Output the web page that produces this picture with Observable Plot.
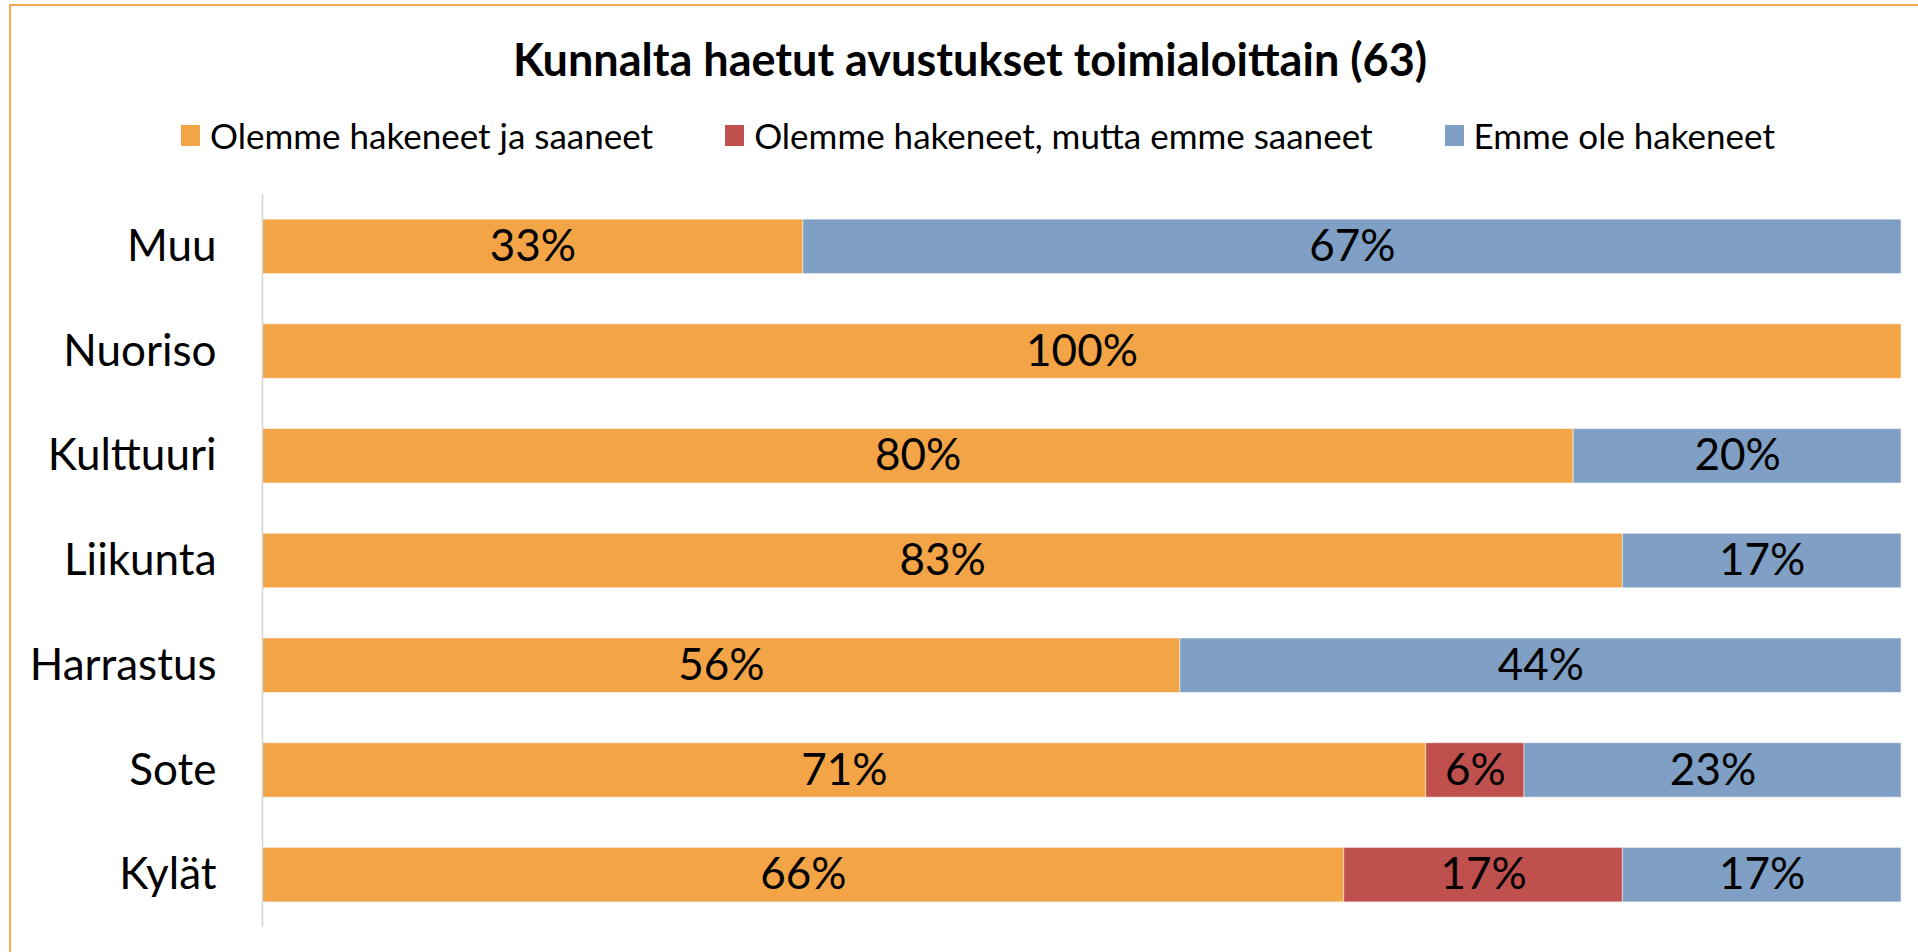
<!DOCTYPE html>
<html>
<head>
<meta charset="utf-8">
<script src="https://cdn.jsdelivr.net/npm/d3@7"></script>
<script src="https://cdn.jsdelivr.net/npm/@observablehq/plot@0.6"></script>
<style>
  html, body { margin: 0; padding: 0; background: #fff; width: 1918px; height: 952px; overflow: hidden; }
  body { position: relative; font-family: Lato, "Open Sans", sans-serif; color: #000; }
  #frame { position: absolute; left: 9px; top: 4px; width: 1960px; height: 1000px; border-left: 2px solid #F4A84F; border-top: 2px solid #F4A84F; box-sizing: border-box; }
  #title { position: absolute; left: 0; width: 1940px; top: 31px; text-align: center; font-weight: bold; font-size: 45px; line-height: 56px; }
  #legend { position: absolute; left: 0; width: 1956px; top: 114px; display: flex; justify-content: center; gap: 72px; font-size: 35px; line-height: 42px; }
  .item { display: flex; align-items: center; white-space: nowrap; }
  .sw { width: 19px; height: 21px; margin-right: 10px; display: inline-block; }
  #chart { position: absolute; left: 0; top: 170px; }
</style>
</head>
<body>
<div id="frame"></div>
<div id="title"></div>
<div id="legend"></div>
<div id="chart"></div>
<script>
const title = "Kunnalta haetut avustukset toimialoittain (63)";
const categories = ["Muu", "Nuoriso", "Kulttuuri", "Liikunta", "Harrastus", "Sote", "Kylät"];
const seriesNames = ["Olemme hakeneet ja saaneet", "Olemme hakeneet, mutta emme saaneet", "Emme ole hakeneet"];
const haettuSaatu = [33, 100, 80, 83, 56, 71, 66];
const haettuEiSaatu = [0, 0, 0, 0, 0, 6, 17];
const eiHaettu = [67, 0, 20, 17, 44, 23, 17];
const colors = ["#F2A447", "#C0504D", "#7F9FC4"];

const seriesValues = [haettuSaatu, haettuEiSaatu, eiHaettu];
const data = [];
categories.forEach((c, i) => {
  seriesNames.forEach((s, j) => {
    data.push({category: c, series: s, value: seriesValues[j][i]});
  });
});

document.getElementById("title").textContent = title;
const legend = document.getElementById("legend");
seriesNames.forEach((s, j) => {
  const it = document.createElement("div");
  it.className = "item";
  const sw = document.createElement("span");
  sw.className = "sw";
  sw.style.background = colors[j];
  it.appendChild(sw);
  it.appendChild(document.createTextNode(s));
  legend.appendChild(it);
});

const chart = Plot.plot({
  width: 1918,
  height: 782,
  marginLeft: 262,
  marginRight: 17,
  marginTop: 24,
  marginBottom: 25,
  style: {fontFamily: "Lato, 'Open Sans', sans-serif", fontSize: "44px", color: "#000", background: "transparent", overflow: "visible"},
  x: {domain: [0, 100], axis: null},
  y: {domain: categories, paddingInner: 0.48, paddingOuter: 0.24, round: false, label: null, tickSize: 0, tickPadding: 46},
  color: {domain: seriesNames, range: colors},
  marks: [
    Plot.barX(data, Plot.stackX({x: "value", y: "category", fill: "series", stroke: "#ffffff", strokeWidth: 1, strokeOpacity: 0.5})),
    Plot.text(data.filter(d => d.value > 0), Plot.stackX({x: "value", y: "category", text: d => d.value + "%", fill: "#000", fontSize: 44})),
    Plot.ruleX([0], {stroke: "#D4D4D4", strokeWidth: 1.5}),
    Plot.axisY({tickSize: 0, tickPadding: 46, fontSize: 44, label: null})
  ]
});
document.getElementById("chart").appendChild(chart);
</script>
</body>
</html>
